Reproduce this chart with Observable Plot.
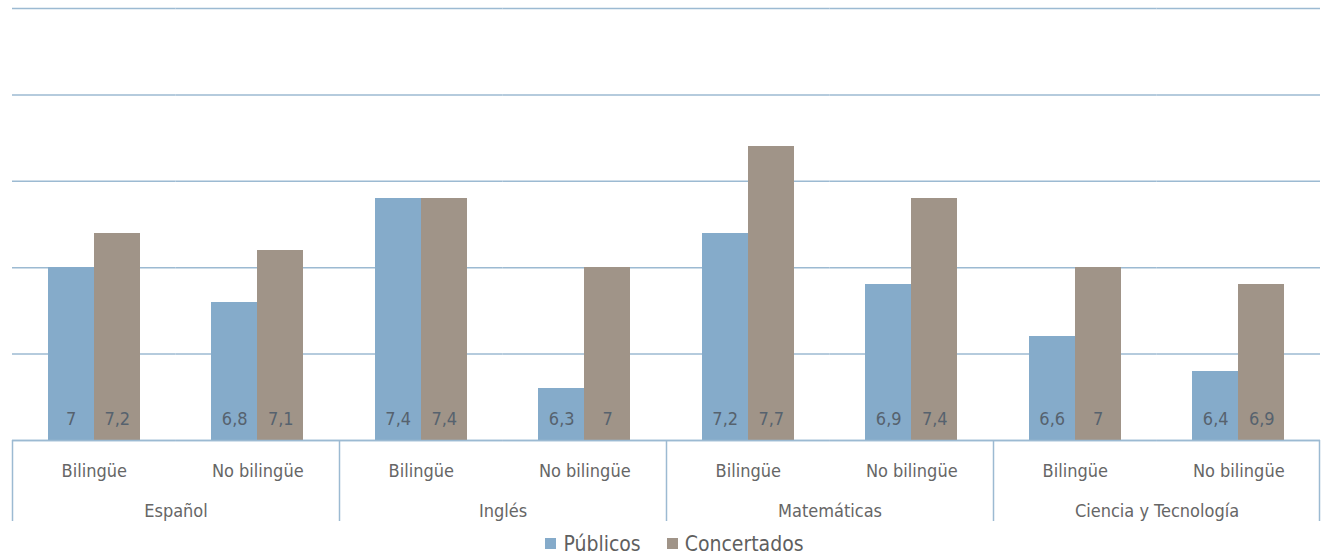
<!DOCTYPE html>
<html>
<head>
<meta charset="utf-8">
<script src="https://cdn.jsdelivr.net/npm/d3@7"></script>
<script src="https://cdn.jsdelivr.net/npm/@observablehq/plot@0.6"></script>
<style>
  body { margin: 0; background: #fff; font-family: "Liberation Sans Narrow", "DejaVu Sans Condensed", sans-serif; }
  #legend { display: flex; justify-content: center; align-items: center; gap: 26px; height: 27px; font-size: 21px; color: #5f5f5f; padding-left: 28px; }
  #legend .item { display: flex; align-items: center; }
  #legend .sw { display: inline-block; width: 11px; height: 11px; margin-right: 7px; }
</style>
</head>
<body>
<div id="chart"></div>
<div id="legend"></div>
<script>
const subjects = ["Español", "Inglés", "Matemáticas", "Ciencia y Tecnología"];
const types = ["Bilingüe", "No bilingüe"];
const series = ["Públicos", "Concertados"];
const colors = ["#85abca", "#a09488"];
// values per subject, per type: [Bilingüe, No bilingüe]
const publicos =    [[7.0, 6.8], [7.4, 6.3], [7.2, 6.9], [6.6, 6.4]];
const concertados = [[7.2, 7.1], [7.4, 7.0], [7.7, 7.4], [7.0, 6.9]];
const yTicks = [6, 6.5, 7, 7.5, 8, 8.5];

const key = (s, t) => s + "|" + t;
const keys = subjects.flatMap(s => types.map(t => key(s, t)));
const rows = [];
subjects.forEach((s, i) => types.forEach((t, j) => {
  rows.push({key: key(s, t), subject: s, type: t, series: "Públicos", value: publicos[i][j]});
  rows.push({key: key(s, t), subject: s, type: t, series: "Concertados", value: concertados[i][j]});
}));
const typeRows = subjects.flatMap(s => types.map(t => ({key: key(s, t), type: t})));
const subjRows = subjects.map(s => ({key: key(s, types[0]), subject: s}));
const sepLeft = subjects.map(s => ({key: key(s, types[0])}));
const sepRight = [{key: key(subjects[subjects.length - 1], types[1])}];

const W = 1321, mL = 12, mR = 1;
const facetW = (W - mL - mR) / keys.length;
const fmt = v => String(v).replace(".", ",");
const gridColor = "#9cbad2";
const textColor = "#666666";
const font = "'Liberation Sans Narrow', 'DejaVu Sans Condensed', sans-serif";

const plot = Plot.plot({
  width: W,
  height: 530,
  marginLeft: mL,
  marginRight: mR,
  marginTop: 8,
  marginBottom: 90,
  style: {fontFamily: font, background: "#fff"},
  fx: {domain: keys, padding: 0, axis: null, round: false},
  x: {domain: series, paddingInner: 0, paddingOuter: 0.777, axis: null, round: false},
  y: {domain: [6, 8.5], axis: null},
  color: {domain: series, range: colors},
  marks: [
    Plot.ruleY(yTicks, {y: d => d, stroke: gridColor, strokeWidth: 1.5}),
    Plot.barY(rows, {fx: "key", x: "series", y1: 6, y2: "value", fill: "series", shapeRendering: "crispEdges"}),
    Plot.text(rows, {fx: "key", x: "series", y: 6, dy: -21, text: d => fmt(d.value), fill: "#56626e", fontSize: 18}),
    Plot.ruleY([6], {y: d => d, stroke: gridColor, strokeWidth: 1.5}),
    Plot.ruleX(sepLeft, {fx: "key", x: null, y1: 6, y2: 6, insetBottom: -81, dx: -facetW / 2, stroke: gridColor, strokeWidth: 1.5}),
    Plot.ruleX(sepRight, {fx: "key", x: null, y1: 6, y2: 6, insetBottom: -81, dx: facetW / 2 - 1, stroke: gridColor, strokeWidth: 1.5}),
    Plot.text(typeRows, {fx: "key", y: 6, dy: 31, text: "type", fill: textColor, fontSize: 18}),
    Plot.text(subjRows, {fx: "key", frameAnchor: "right", y: 6, dy: 71, text: "subject", textAnchor: "middle", fill: textColor, fontSize: 18})
  ]
});
document.getElementById("chart").appendChild(plot);

const legend = document.getElementById("legend");
series.forEach((s, i) => {
  const item = document.createElement("div");
  item.className = "item";
  const sw = document.createElement("span");
  sw.className = "sw";
  sw.style.background = colors[i];
  item.appendChild(sw);
  item.appendChild(document.createTextNode(s));
  legend.appendChild(item);
});
</script>
</body>
</html>
